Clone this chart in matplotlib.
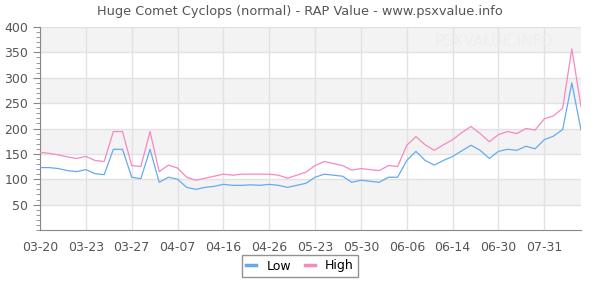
import matplotlib
matplotlib.use("Agg")
import matplotlib.pyplot as plt
from matplotlib.ticker import MultipleLocator

# Valores (RAP Value)
low = [123, 123, 121, 117, 115, 119, 111, 109, 159, 159,
       104, 101, 159, 94, 104, 100, 84, 80, 84, 86,
       90, 88, 88, 89, 88, 90, 88, 84, 88, 92,
       104, 110, 108, 106, 94, 98, 96, 94, 104, 104,
       137, 155, 137, 128, 137, 145, 156, 167, 157, 141,
       155, 159, 157, 165, 160, 178, 185, 198, 290, 197]
high = [153, 151, 148, 144, 141, 145, 137, 135, 194, 194,
        127, 125, 194, 115, 128, 122, 104, 98, 102, 106,
        110, 108, 110, 110, 110, 110, 108, 102, 108, 114,
        127, 135, 131, 127, 118, 121, 119, 117, 127, 125,
        167, 184, 168, 157, 168, 178, 192, 204, 190, 174,
        188, 194, 190, 200, 197, 219, 225, 240, 357, 243]
tick_labels = ["03-20", "03-23", "03-27", "04-07", "04-16", "04-26",
               "05-23", "05-30", "06-06", "06-14", "06-30", "07-31"]

txt = "#555555"
fig = plt.figure(figsize=(6, 3), dpi=100)
ax = fig.add_axes([40 / 600, 1 - 230 / 300, 541 / 600, 203 / 300])

# Faixas alternadas de fundo
for y0 in range(50, 400, 100):
    ax.axhspan(y0, y0 + 50, color="#f3f3f3", zorder=0, lw=0)

x = list(range(len(low)))
ax.plot(x, low, color="#66aaee", lw=0.9, label="Low", zorder=3)
ax.plot(x, high, color="#f788c0", lw=0.9, label="High", zorder=3)

ax.set_xlim(0, len(low) - 1)
ax.set_ylim(0, 400)
ax.set_xticks(range(0, 5 * len(tick_labels), 5))
ax.set_xticklabels(tick_labels)
ax.set_yticks(range(50, 401, 50))
ax.yaxis.set_minor_locator(MultipleLocator(10))
ax.grid(True, which="major", color="#e2e2e2", lw=1, zorder=1)
ax.set_axisbelow(True)

ax.tick_params(axis="x", length=0, pad=8, labelsize=9, labelcolor=txt)
ax.tick_params(axis="y", which="major", length=5, color="#888888", labelsize=9, labelcolor=txt)
ax.tick_params(axis="y", which="minor", length=3, color="#888888")
for s in ["top", "right"]:
    ax.spines[s].set_visible(False)
for s in ["left", "bottom"]:
    ax.spines[s].set_color("#888888")

fig.text(0.5, 0.96, "Huge Comet Cyclops (normal) - RAP Value - www.psxvalue.info",
         ha="center", va="center", fontsize=9.3, color=txt)
ax.text(0.95, 0.93, "PSXVALUE.INFO", transform=ax.transAxes, ha="right", va="center",
        fontsize=11, color="#eeeeee", zorder=2)

# Legenda centrada na figura, abaixo do eixo
leg = fig.legend(loc="center", bbox_to_anchor=(0.5, 1 - 266 / 300), ncol=2, frameon=True,
                 fancybox=False, fontsize=9, handlelength=0.8, handletextpad=0.8,
                 columnspacing=1.1, borderpad=0.35)
leg.get_frame().set_edgecolor("#777777")
leg.get_frame().set_linewidth(1)
for h in leg.get_lines():
    h.set_linewidth(2.5)

fig.savefig("out.png", dpi=100)
